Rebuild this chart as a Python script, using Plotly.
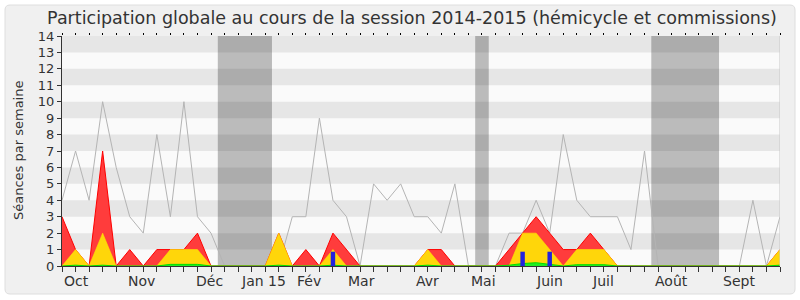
import plotly.graph_objects as go

# ---------------- data ----------------
weeks = list(range(54))
total = [4, 7, 4, 10, 6, 3, 2, 8, 3, 10, 3, 2, 0, 0, 0, 0, 0, 3, 3, 9,
         4, 3, 0, 5, 4, 5, 3, 3, 2, 5, 0, 0, 0, 2, 2, 4, 2, 8, 4, 3,
         3, 3, 1, 7, 0, 0, 0, 0, 0, 0, 0, 4, 0, 3]
red = [3, 1, 0, 7, 0, 1, 0, 1, 1, 1, 2, 0, 0, 0, 0, 0, 2, 0, 1, 0,
       2, 1, 0, 0, 0, 0, 0, 1, 1, 0, 0, 0, 0, 1, 2, 3, 2, 1, 1, 2,
       1, 0, 0, 0, 0, 0, 0, 0, 0, 0, 0, 0, 0, 1]
yellow = [0, 1, 0, 2, 0, 0, 0, 0, 1, 1, 1, 0, 0, 0, 0, 0, 2, 0, 0, 0,
          1, 0, 0, 0, 0, 0, 0, 1, 0, 0, 0, 0, 0, 0, 2, 2, 1, 0, 1, 1,
          1, 0, 0, 0, 0, 0, 0, 0, 0, 0, 0, 0, 0, 1]
green = [0, 0.05, 0, 0.05, 0, 0, 0, 0, 0.1, 0.1, 0.1, 0, 0, 0, 0, 0, 0.05, 0, 0, 0,
         0.05, 0, 0, 0, 0, 0, 0, 0.05, 0, 0, 0, 0, 0, 0.05, 0.15, 0.2, 0.1, 0, 0.08, 0.08,
         0.08, 0, 0, 0, 0, 0, 0, 0, 0, 0, 0, 0, 0, 0.05]
blue = [0] * 54
blue[20] = 0.87
blue[34] = 0.87
blue[36] = 0.87

month_labels = ["Oct", "Nov", "Déc", "Jan 15", "Fév", "Mar", "Avr", "Mai",
                "Juin", "Juil", "Août", "Sept"]
month_pos = [1.1, 5.9, 10.9, 14.85, 18.2, 22.1, 27.0, 31.1, 35.96, 39.9, 44.97, 50.0]
y_ticks = list(range(15))
vacations = [(11.5, 15.5), (30.5, 31.5), (43.5, 48.5)]

title = "Participation globale au cours de la session 2014-2015 (hémicycle et commissions)"
ytitle = "Séances par semaine"

# ---------------- layout geometry ----------------
W, H = 800, 300
L, R, T, B = 62, 20, 36, 34
PW, PH = W - L - R, H - T - B


def px_x(p):
    return (p - L) / PW


def px_y(p):
    return (H - B - p) / PH


fig = go.Figure()

fig.add_trace(go.Scatter(x=weeks, y=total, mode="lines",
                         line=dict(color="#b4b4b4", width=1), showlegend=False))
fig.add_trace(go.Scatter(x=weeks, y=red, mode="lines", fill="tozeroy",
                         fillcolor="rgb(255,60,60)",
                         line=dict(color="#ff0000", width=1), showlegend=False))
fig.add_trace(go.Scatter(x=weeks, y=yellow, mode="lines", fill="tozeroy",
                         fillcolor="rgb(255,214,10)",
                         line=dict(color="rgba(255,230,0,0.6)", width=1), showlegend=False))
fig.add_trace(go.Scatter(x=weeks, y=green, mode="lines", fill="tozeroy",
                         fillcolor="#22ee22",
                         line=dict(color="#00dd00", width=1), showlegend=False))
fig.add_trace(go.Bar(x=weeks, y=blue, width=0.33, marker=dict(color="#2222dd", line=dict(width=0)),
                     xaxis="x2", yaxis="y2", showlegend=False))

shapes = []
# panel with rounded corners (paper coords)
x0, x1 = px_x(5), px_x(795)
y0, y1 = px_y(294), px_y(5)
rx, ry = 5 / PW, 5 / PH
path = (f"M {x0+rx},{y0} L {x1-rx},{y0} Q {x1},{y0} {x1},{y0+ry} "
        f"L {x1},{y1-ry} Q {x1},{y1} {x1-rx},{y1} L {x0+rx},{y1} "
        f"Q {x0},{y1} {x0},{y1-ry} L {x0},{y0+ry} Q {x0},{y0} {x0+rx},{y0} Z")
shapes.append(dict(type="path", path=path, xref="paper", yref="paper", layer="below",
                   fillcolor="#f0f0f0", line=dict(color="#dedede", width=1)))
# plot background and stripes
shapes.append(dict(type="rect", xref="x", yref="y", x0=0, x1=53, y0=0, y1=14,
                   fillcolor="#fafafa", line=dict(width=0), layer="below"))
for k in range(1, 14, 2):
    shapes.append(dict(type="rect", xref="x", yref="y", x0=0, x1=53, y0=k, y1=k + 1,
                       fillcolor="#e6e6e6", line=dict(width=0), layer="below"))
for a, b in vacations:
    shapes.append(dict(type="rect", xref="x", yref="y", x0=a, x1=b, y0=0, y1=14,
                       fillcolor="rgba(0,0,0,0.25)", line=dict(width=0), layer="below"))
shapes.append(dict(type="line", xref="x", yref="y", x0=53, x1=53, y0=0, y1=14,
                   line=dict(color="#c8c8c8", width=1)))

annotations = []
for lab, pos in zip(month_labels, month_pos):
    annotations.append(dict(text=lab, x=pos, xref="x", y=0, yref="paper",
                            yanchor="top", xanchor="center", yshift=-5, showarrow=False,
                            font=dict(size=14, color="#333333")))
annotations.append(dict(text=ytitle, x=px_x(18), xref="paper", y=0.5, yref="paper",
                        textangle=-90, showarrow=False, xanchor="center", yanchor="middle",
                        font=dict(size=13, color="#333333")))

fig.update_layout(
    width=W, height=H,
    margin=dict(l=L, r=R, t=T, b=B, pad=0),
    paper_bgcolor="white", plot_bgcolor="#fafafa",
    font=dict(family="DejaVu Sans", color="#333333"),
    title=dict(text=title, x=412 / W, xref="container", xanchor="center",
               y=1 - 18 / H, yref="container", yanchor="middle",
               font=dict(size=17.5, color="#333333")),
    shapes=shapes, annotations=annotations,
    barmode="overlay",
    xaxis=dict(range=[0, 53], tickvals=weeks, showticklabels=False, ticks="outside",
               ticklen=5, tickcolor="#333333", showline=True, linecolor="#333333",
               showgrid=False, zeroline=False, fixedrange=True),
    yaxis=dict(range=[0, 14], tickvals=y_ticks, ticks="outside", ticklen=4,
               tickcolor="#333333", showline=True, linecolor="#333333",
               showgrid=False, zeroline=False, tickfont=dict(size=13, color="#333333")),
    xaxis2=dict(range=[0, 53], overlaying="x", side="top", anchor="y2", tickvals=weeks,
                showticklabels=False, ticks="outside", ticklen=2, tickcolor="#000000",
                showline=False, showgrid=False, zeroline=False),
    yaxis2=dict(range=[0, 14], overlaying="y", visible=False),
)

fig.write_html("out.html")
